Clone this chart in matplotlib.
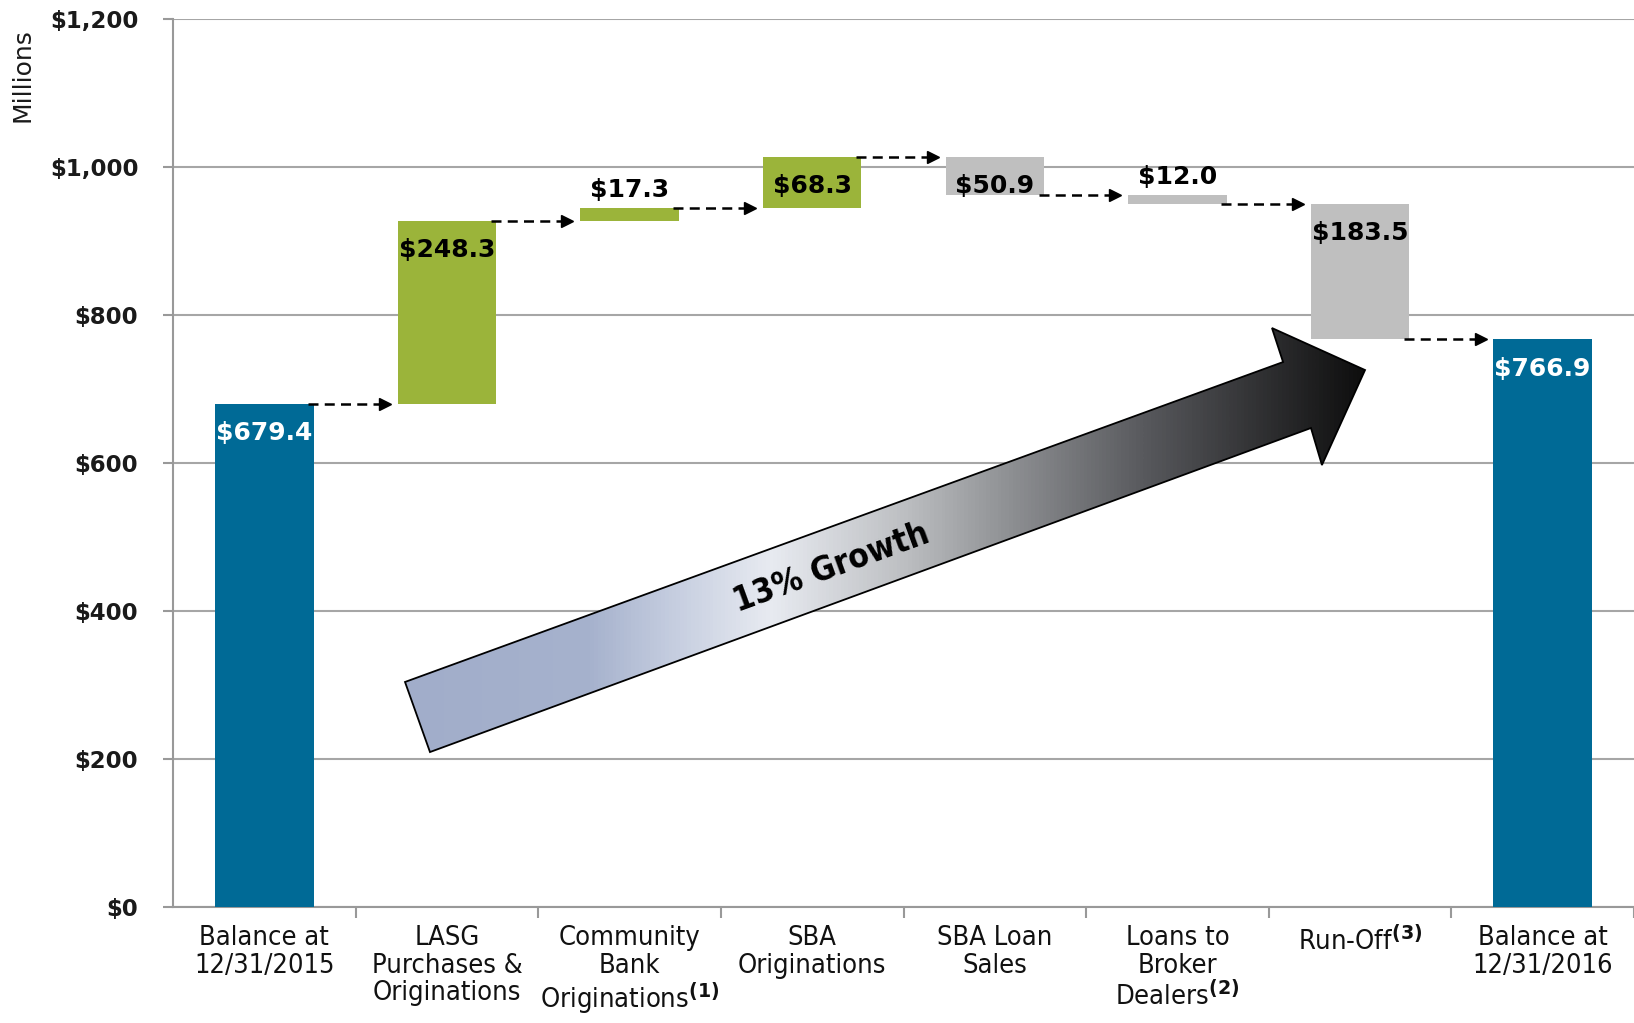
import numpy as np
import matplotlib.pyplot as plt
from matplotlib.colors import LinearSegmentedColormap
from matplotlib.patches import Polygon

# data
categories = ["Balance at\n12/31/2015",
              "LASG\nPurchases &\nOriginations",
              "Community\nBank\nOriginations$^{\\bf{(1)}}$",
              "SBA\nOriginations",
              "SBA Loan\nSales",
              "Loans to\nBroker\nDealers$^{\\bf{(2)}}$",
              "Run-Off$^{\\bf{(3)}}$",
              "Balance at\n12/31/2016"]
start_balance = 679.4
changes = [248.3, 17.3, 68.3, -50.9, -12.0, -183.5]
end_balance = 766.9
yticks = [0, 200, 400, 600, 800, 1000, 1200]
ytick_labels = ["$0", "$200", "$400", "$600", "$800", "$1,000", "$1,200"]

BLUE = "#006A96"
GREEN = "#9BB43A"
GRAY = "#BFBFBF"

# waterfall geometry
bottoms, heights, colors = [0], [start_balance], [BLUE]
level = start_balance
for c in changes:
    if c >= 0:
        bottoms.append(level); heights.append(c); colors.append(GREEN)
    else:
        bottoms.append(level + c); heights.append(-c); colors.append(GRAY)
    level += c
bottoms.append(0); heights.append(end_balance); colors.append(BLUE)
values = [start_balance] + [abs(c) for c in changes] + [end_balance]
levels = np.cumsum([start_balance] + changes)

fig = plt.figure(figsize=(16.34, 10.23), dpi=100)
ax = fig.add_axes([173/1634, 116/1023, 1 - 173/1634, 888/1023])

x = np.arange(len(categories))
bw = 0.54
ax.bar(x, heights, bottom=bottoms, width=bw, color=colors, zorder=3)

# value labels
for i, (b, h, v) in enumerate(zip(bottoms, heights, values)):
    top = b + h
    tcol = "white" if colors[i] == BLUE else "black"
    dy = -21 if h > 30 else 13
    ax.annotate(f"${v:.1f}", (i, top), xytext=(0, dy), textcoords="offset points",
                ha="center", va="center", fontsize=18, fontweight="bold", color=tcol, zorder=5)

# dashed connectors
for i, lv in enumerate(levels):
    x0 = i + bw / 2 - 0.03
    x1 = i + 1 - bw / 2 - 0.07
    ax.plot([x0, x1], [lv, lv], ls=(0, (4, 2.5)), color="black", lw=1.8, zorder=4)
    ax.plot(x1, lv, marker=">", ms=9, color="black", zorder=4)

# growth arrow (axes fraction coords)
arrow_pts = [(0.1588, 0.2534), (0.7598, 0.6137), (0.7522, 0.6520), (0.8159, 0.6047),
             (0.7864, 0.4977), (0.7789, 0.5394), (0.1759, 0.1745)]
poly = Polygon(arrow_pts, closed=True, transform=ax.transAxes, facecolor="none",
               edgecolor="black", lw=1.3, zorder=7)
ax.add_patch(poly)
cmap = LinearSegmentedColormap.from_list("grow", [
    (0.0, "#A1ADCA"), (0.19, "#A6B2CD"), (0.28, "#C6CEE0"), (0.38, "#E8EBF1"),
    (0.52, "#BDBFC2"), (0.63, "#8E9093"), (0.78, "#55565A"), (1.0, "#0E0E0E")])
grad = np.linspace(0, 1, 256).reshape(1, -1)
im = ax.imshow(grad, cmap=cmap, extent=[0.1588, 0.8159, 0.1745, 0.6520],
               transform=ax.transAxes, aspect="auto", zorder=6, interpolation="bilinear")
im.set_clip_path(Polygon(arrow_pts, closed=True, transform=ax.transAxes))
ax.text(0.451, 0.3818, "13% Growth", transform=ax.transAxes, rotation=20,
        rotation_mode="anchor", ha="center", va="center", fontsize=24,
        fontweight="bold", fontstretch="condensed", color="black", zorder=8)

# axes styling
ax.set_xlim(-0.5, len(categories) - 0.5)
ax.set_ylim(0, 1200)
ax.set_yticks(yticks)
ax.set_yticklabels(ytick_labels, fontsize=16.5, fontweight="bold", color="#1a1a1a")
ax.set_xticks(x)
ax.set_xticklabels(categories, fontsize=19.5, fontstretch="condensed", color="#111111",
                   linespacing=1.08)
ax.set_xticks(np.arange(len(categories)) + 0.5, minor=True)
ax.tick_params(axis="x", which="major", length=0, pad=13)
ax.tick_params(axis="x", which="minor", length=8, color="#999999", width=1.5)
ax.tick_params(axis="y", length=7, color="#999999", width=1.5, pad=18)
ax.grid(axis="y", color="#A6A6A6", lw=1.5, zorder=0)
for s in ["top", "right"]:
    ax.spines[s].set_visible(False)
for s in ["left", "bottom"]:
    ax.spines[s].set_color("#999999")
    ax.spines[s].set_linewidth(1.5)

fig.text(0.014, 0.927, "Millions", rotation=90, ha="center", va="center",
         fontsize=18, color="#1a1a1a")

fig.savefig("out.png", dpi=100)
